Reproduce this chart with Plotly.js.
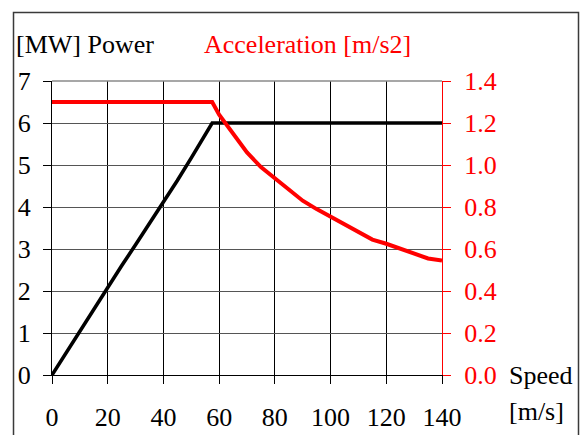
<!DOCTYPE html>
<html>
<head>
<meta charset="utf-8">
<script src="https://cdn.plot.ly/plotly-3.0.1.min.js"></script>
<style>
html,body{margin:0;padding:0;overflow:hidden;background:#fff;}
#chart{width:582px;height:435px;}
</style>
</head>
<body>
<div id="chart"></div>
<script>
// Speed [m/s]
var speed = [0,5,10,15,20,25,30,35,40,45,50,55,57.5,60,65,70,75,80,85,90,95,100,105,110,115,120,125,130,135,140];
// Power [MW]
var power = [0,0.52,1.05,1.57,2.1,2.6,3.1,3.6,4.1,4.63,5.17,5.7,6,6,6,6,6,6,6,6,6,6,6,6,6,6,6,6,6,6];
// Acceleration [m/s2]
var accel = [1.3,1.3,1.3,1.3,1.3,1.3,1.3,1.3,1.3,1.3,1.3,1.3,1.3,1.24,1.15,1.06,0.99,0.935,0.885,0.83,0.79,0.755,0.715,0.68,0.645,0.625,0.6,0.58,0.555,0.545];

var labelPower = '[MW] Power';
var labelAccel = 'Acceleration [m/s2]';
var labelSpeed = 'Speed';
var labelSpeedUnit = '[m/s]';

var F = '"Liberation Serif", "Times New Roman", serif';
var FS = 26;

var traces = [
  {x: speed, y: power, type: 'scatter', mode: 'lines', line: {color: '#000000', width: 3.6}, yaxis: 'y', hoverinfo: 'skip'},
  {x: speed, y: accel, type: 'scatter', mode: 'lines', line: {color: '#ff0000', width: 4}, yaxis: 'y2', hoverinfo: 'skip'}
];

var layout = {
  width: 582, height: 435,
  margin: {l: 52, r: 140, t: 81, b: 60},
  paper_bgcolor: '#ffffff', plot_bgcolor: '#ffffff',
  showlegend: false,
  font: {family: F, size: FS, color: '#000'},
  xaxis: {
    range: [0, 140], tick0: 0, dtick: 20, tickmode: 'linear',
    showgrid: true, gridcolor: '#000000', gridwidth: 1,
    showline: true, linecolor: '#000000', linewidth: 1,
    ticks: 'outside', ticklen: 8, tickcolor: '#000000', tickwidth: 1,
    zeroline: false, tickfont: {family: F, size: FS, color: '#000'},
    ticklabelstandoff: 11
  },
  yaxis: {
    range: [0, 7], tick0: 0, dtick: 1, tickmode: 'linear',
    showgrid: true, gridcolor: '#555555', gridwidth: 1,
    showline: true, linecolor: '#000000', linewidth: 1,
    ticks: 'outside', ticklen: 8, tickcolor: '#000000', tickwidth: 1,
    zeroline: false, tickfont: {family: F, size: FS, color: '#000'},
    ticklabelstandoff: 7
  },
  yaxis2: {
    overlaying: 'y', side: 'right',
    range: [0, 1.4], tick0: 0, dtick: 0.2, tickmode: 'linear', tickformat: '.1f',
    showgrid: false, showline: true, linecolor: '#ff0000', linewidth: 1,
    ticks: 'outside', ticklen: 8, tickcolor: '#ff0000', tickwidth: 1,
    zeroline: false, tickfont: {family: F, size: FS, color: '#ff0000'},
    ticklabelstandoff: 8
  },
  yaxis3: {
    overlaying: 'y', side: 'right',
    range: [0, 1.4], tick0: 0, dtick: 0.2, tickmode: 'linear',
    showgrid: false, showline: false, showticklabels: false,
    ticks: 'inside', ticklen: 7, tickcolor: '#ff0000', tickwidth: 1,
    zeroline: false
  },
  shapes: [
    {type: 'line', xref: 'paper', yref: 'paper', x0: 0, x1: 1, y0: 1, y1: 1, line: {color: '#8a8a8a', width: 1.5}},
    {type: 'rect', xref: 'paper', yref: 'paper', x0: -0.0987, x1: 1.35, y0: -0.4, y1: 1.233, line: {color: '#3a3a3a', width: 1.5}, fillcolor: 'rgba(0,0,0,0)', layer: 'above'}
  ],
  annotations: [
    {text: labelPower, xref: 'paper', yref: 'paper', x: -0.097, y: 1.123, xanchor: 'left', yanchor: 'middle', showarrow: false, font: {family: F, size: FS, color: '#000'}},
    {text: labelAccel, xref: 'paper', yref: 'paper', x: 0.384, y: 1.123, xanchor: 'left', yanchor: 'middle', showarrow: false, font: {family: F, size: FS, color: '#ff0000'}},
    {text: labelSpeed, xref: 'paper', yref: 'paper', x: 1.166, y: 0.0, xanchor: 'left', yanchor: 'middle', showarrow: false, font: {family: F, size: FS, color: '#000'}},
    {text: labelSpeedUnit, xref: 'paper', yref: 'paper', x: 1.166, y: -0.124, xanchor: 'left', yanchor: 'middle', showarrow: false, font: {family: F, size: FS, color: '#000'}}
  ]
};

Plotly.newPlot('chart', traces, layout, {staticPlot: true, displayModeBar: false});
</script>
</body>
</html>
